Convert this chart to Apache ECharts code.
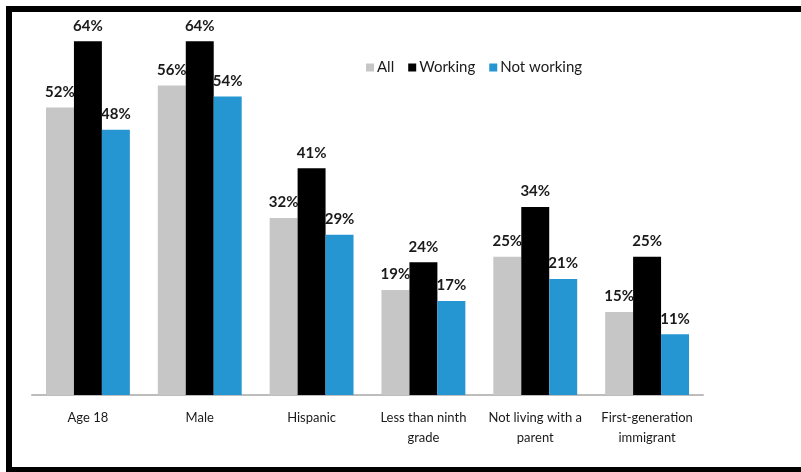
<!DOCTYPE html>
<html>
<head>
<meta charset="utf-8">
<script src="https://cdn.jsdelivr.net/npm/echarts@6/dist/echarts.min.js"></script>
<style>
  html, body { margin: 0; padding: 0; background: #fff; }
  #chart { width: 801px; height: 472px; }
</style>
</head>
<body>
<div id="chart"></div>
<script>
// Share of youth with each characteristic, by work status (%)
const categories = ['Age 18', 'Male', 'Hispanic', 'Less than ninth\ngrade', 'Not living with a\nparent', 'First-generation\nimmigrant'];
const allValues = [52, 56, 32, 19, 25, 15];
const workingValues = [64, 64, 41, 24, 34, 25];
const notWorkingValues = [48, 54, 29, 17, 21, 11];

const FONT = 'Lato, "Open Sans", sans-serif';

const labelStyle = {
  show: true,
  position: 'top',
  distance: 8,
  formatter: '{c}%',
  color: '#1a1a1a',
  fontFamily: FONT,
  fontWeight: 'bold',
  fontSize: 15
};

function barSeries(name, data, color) {
  return {
    name: name,
    type: 'bar',
    data: data,
    barGap: '0%',
    barCategoryGap: '25%',
    itemStyle: { color: color },
    label: labelStyle,
    emphasis: { disabled: true }
  };
}

const chart = echarts.init(document.getElementById('chart'), null, { renderer: 'canvas' });
chart.setOption({
  animation: false,
  backgroundColor: '#fff',
  grid: { left: 32, right: 98, top: 8, bottom: 77, containLabel: false },
  legend: {
    left: 361,
    top: 55,
    itemWidth: 8,
    itemHeight: 8,
    itemGap: 14,
    icon: 'rect',
    textStyle: { fontFamily: FONT, fontSize: 15, color: '#1a1a1a', padding: [0, 0, 0, -2] },
    data: ['All', 'Working', 'Not working']
  },
  xAxis: {
    type: 'category',
    data: categories,
    axisLine: { lineStyle: { color: '#bdbdbd', width: 2 } },
    axisTick: { show: false },
    axisLabel: {
      interval: 0,
      margin: 13,
      fontFamily: FONT,
      fontSize: 13,
      color: '#1a1a1a',
      lineHeight: 20
    }
  },
  yAxis: {
    type: 'value',
    min: 0,
    max: 70,
    show: false,
    splitLine: { show: false }
  },
  series: [
    barSeries('All', allValues, '#c6c6c6'),
    barSeries('Working', workingValues, '#000000'),
    barSeries('Not working', notWorkingValues, '#2596d2')
  ],
  graphic: [
    { type: 'rect', shape: { x: 6, y: 6, width: 6, height: 466 }, style: { fill: '#000' }, silent: true },
    { type: 'rect', shape: { x: 6, y: 6, width: 795, height: 6 }, style: { fill: '#000' }, silent: true },
    { type: 'rect', shape: { x: 6, y: 467, width: 795, height: 5 }, style: { fill: '#000' }, silent: true }
  ]
});
</script>
</body>
</html>
